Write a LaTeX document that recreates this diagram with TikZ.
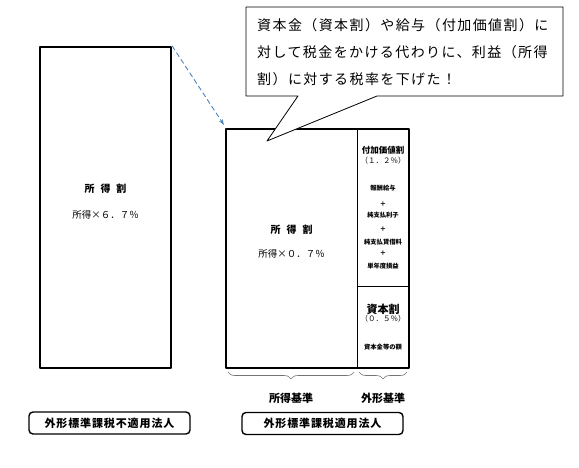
\documentclass[tikz,border=0pt]{standalone}
\usepackage{fontspec}
\setmainfont{Noto Sans CJK JP}
\newfontfamily\msgfont[LetterSpace=10]{Noto Sans CJK JP}
\newfontfamily\hojinfont[LetterSpace=8]{Noto Sans CJK JP}
\usetikzlibrary{arrows.meta,decorations.pathreplacing}

\begin{document}
\begin{tikzpicture}[x=1pt,y=-1pt,line join=round,
  taxbox/.style={draw=black,line width=2.2pt,inner sep=0pt},
  hojinbox/.style={draw=black,line width=1.4pt,rounded corners=4pt,minimum width=161,minimum height=22,inner sep=0pt,font=\hojinfont\bfseries\fontsize{11}{12}\selectfont},
  midasi/.style={font=\bfseries\fontsize{10}{11}\selectfont,inner sep=0pt},
  siki/.style={font=\fontsize{9.5}{11}\selectfont,inner sep=0pt},
  komoku/.style={font=\bfseries\fontsize{6.3}{7}\selectfont,inner sep=0pt},
  kijun/.style={font=\bfseries\fontsize{11}{12}\selectfont,inner sep=0pt},
  msgline/.style={anchor=west,font=\msgfont\fontsize{14}{15}\selectfont,inner sep=0pt},
  kakko/.style={decorate,decoration={brace,mirror,amplitude=7pt},draw=black!55,line width=.6pt}]
\definecolor{yajirusi}{HTML}{4F81BD}
\useasboundingbox (0,0) rectangle (579,468);

\node[taxbox,minimum width=131,minimum height=321] (fubox) at (105.5,207.5) {};
\node[midasi] (fuwari) at (105.5,189) {所\hspace{.6em}得\hspace{.6em}割};
\node[siki] (fusiki) at (105.5,215) {所得×６．７％};

\node[taxbox,minimum width=183,minimum height=239] (tekibox) at (317.5,248.5) {};
\coordinate (divtop) at (357,129);
\coordinate (divbot) at (357,368);
\coordinate (sikiri) at (357,286);
\draw[line width=.7pt] (divtop) -- (divbot);
\draw[line width=.7pt] (sikiri) -- (sikiri -| tekibox.east);
\node[midasi] (tekiwari) at (291.5,230) {所\hspace{.6em}得\hspace{.6em}割};
\node[siki] (tekisiki) at (291.5,254) {所得×０．７％};

\node[font=\bfseries\fontsize{8.5}{9}\selectfont,inner sep=0pt] (fuka) at (383,150) {付加価値割};
\node[font=\fontsize{7.5}{8}\selectfont,inner sep=0pt] (fukaritu) at (383,161) {（１．２％）};
\node[komoku] (hosyu) at (383,188) {報酬給与};
\node[komoku] (plus1) at (383,204) {＋};
\node[komoku] (risi) at (383,215) {純支払利子};
\node[komoku] (plus2) at (383,229) {＋};
\node[komoku] (tinsyaku) at (383,242) {純支払賃借料};
\node[komoku] (plus3) at (383,253) {＋};
\node[komoku] (soneki) at (383,266) {単年度損益};

\node[font=\bfseries\fontsize{11}{12}\selectfont,inner sep=0pt] (sihon) at (383,309) {資本割};
\node[font=\fontsize{7.5}{8}\selectfont,inner sep=0pt] (sihonritu) at (383,319) {（０．５％）};
\node[komoku] (sihonkin) at (383,347) {資本金等の額};

\draw[kakko] (228,372) -- (354,372);
\draw[kakko] (359,372) -- (407,372);
\node[kijun] (syotoku) at (291,398) {所得基準};
\node[kijun] (gaikei) at (383,398) {外形基準};

\node[hojinbox] (fuhojin) at (109.5,423) {外形標準課税不適用法人};
\node[hojinbox] (tekihojin) at (322.5,423.5) {外形標準課税適用法人};

\draw[yajirusi,line width=.9pt,dash pattern=on 5pt off 3pt,-{Stealth[length=6pt,width=4pt]}] (fubox.north east) -- (224,125);

\draw[line width=.8pt,fill=white] (246,7) -- (563,7) -- (563,96) -- (377,96) -- (267,141) -- (298,96) -- (246,96) -- cycle;
\node[msgline] (msg1) at (257,25) {資本金（資本割）や給与（付加価値割）に};
\node[msgline] (msg2) at (257,52) {対して税金をかける代わりに、利益（所得};
\node[msgline] (msg3) at (257,79) {割）に対する税率を下げた！};
\end{tikzpicture}
\end{document}
